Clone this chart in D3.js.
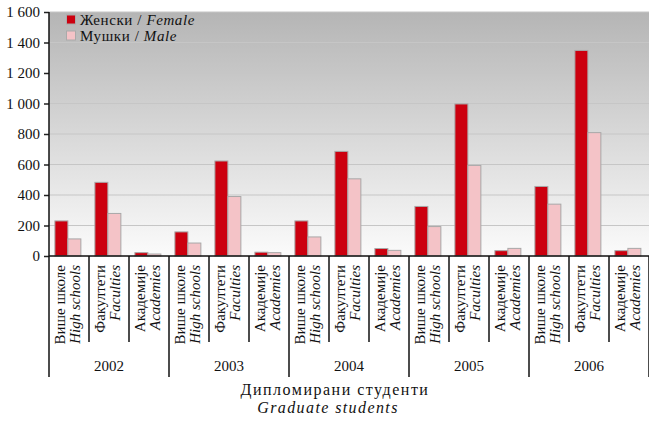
<!DOCTYPE html>
<html><head><meta charset="utf-8">
<script src="https://cdn.jsdelivr.net/npm/d3@7"></script>
<style>body{margin:0;background:#fff}svg{display:block}svg text{font-family:"Liberation Serif","Times New Roman",serif;fill:#111}</style>
</head><body><svg id="c" width="649" height="424"></svg>
<script>
const years = ["2002","2003","2004","2005","2006"];
const categoriesSr = ["Више школе","Факултети","Академије"];
const categoriesEn = ["High schools","Faculties","Academies"];
const seriesSr = ["Женски","Мушки"];
const seriesEn = ["Female","Male"];
// values per year: [High schools, Faculties, Academies]
const female = [[230,483,22],[158,623,25],[230,686,49],[325,997,35],[456,1348,35]];
const male   = [[112,279,13],[85,390,22],[125,506,37],[193,594,50],[340,809,50]];
const yTicks = [0,200,400,600,800,1000,1200,1400,1600];
const colors = ["#cc000f","#f4c3c7"];

const svg = d3.select("#c");
const L = 49, R = 649, T = 12, B = 256;
const y = d3.scaleLinear().domain([0,1600]).range([B,T]);
const x0 = d3.scaleBand().domain(years).range([L,R]);
const x1 = d3.scaleBand().domain(d3.range(3)).range([0,x0.bandwidth()]);
const x2 = d3.scaleBand().domain([0,1]).range([0,x1.bandwidth()]).paddingInner(0).paddingOuter(0.54).align(0.42);

const defs = svg.append("defs");
const g = defs.append("linearGradient").attr("id","bg").attr("x1",0).attr("y1",0).attr("x2",0).attr("y2",1);
g.append("stop").attr("offset","0%").attr("stop-color","#b5b5b5");
g.append("stop").attr("offset","100%").attr("stop-color","#fbfbfb");
svg.append("rect").attr("x",L).attr("y",T).attr("width",R-L).attr("height",B-T).attr("fill","url(#bg)");

// gridlines
svg.append("g").selectAll("line").data(yTicks.slice(1)).join("line")
  .attr("x1",L).attr("x2",R).attr("y1",d=>y(d)).attr("y2",d=>y(d))
  .attr("stroke","#c6c6c6").attr("stroke-width",1.2);

// bars
const rows = [];
years.forEach((yr,i)=>{ for(let c=0;c<3;c++){ rows.push({yr,c,s:0,v:female[i][c]}); rows.push({yr,c,s:1,v:male[i][c]}); }});
svg.append("g").selectAll("rect").data(rows).join("rect")
  .attr("x",d=>x0(d.yr)+x1(d.c)+x2(d.s))
  .attr("width",x2.bandwidth())
  .attr("y",d=>y(d.v)).attr("height",d=>B-y(d.v))
  .attr("fill",d=>colors[d.s]).attr("stroke","#a8a8a8").attr("stroke-width",1);

// y axis
const yAxis = d3.axisLeft(y).tickValues(yTicks).tickSize(5).tickPadding(4)
  .tickFormat(d=>d3.format(",")(d).replace(",","\u00a0"));
const ya = svg.append("g").attr("transform",`translate(${L},0)`).call(yAxis).attr("font-family",null);
ya.select(".domain").remove();
ya.selectAll("line").attr("stroke","#222").attr("stroke-width",1.5);
ya.selectAll("text").attr("font-size",15).attr("fill","#111");

// axis lines
svg.append("line").attr("x1",L).attr("x2",R).attr("y1",B).attr("y2",B).attr("stroke","#111").attr("stroke-width",1.5);
svg.append("line").attr("x1",L).attr("x2",L).attr("y1",T).attr("y2",377).attr("stroke","#111").attr("stroke-width",1.5);

// category separators and labels
const catG = svg.append("g");
years.forEach(yr=>{
  for(let c=0;c<3;c++){
    const cx = x0(yr)+x1(c);
    if(c>0) catG.append("line").attr("x1",cx).attr("x2",cx).attr("y1",B).attr("y2",342).attr("stroke","#111").attr("stroke-width",1.5);
    catG.append("text").attr("transform",`translate(${cx+16},265) rotate(-90)`).attr("text-anchor","end").attr("font-size",15).text(categoriesSr[c]);
    catG.append("text").attr("transform",`translate(${cx+30.5},265) rotate(-90)`).attr("text-anchor","end").attr("font-size",15).attr("font-style","italic").text(categoriesEn[c]);
  }
  const xs = x0(yr)+x0.bandwidth();
  catG.append("line").attr("x1",xs).attr("x2",xs).attr("y1",B).attr("y2",377).attr("stroke","#111").attr("stroke-width",1.5);
  catG.append("text").attr("x",x0(yr)+x0.bandwidth()/2).attr("y",371).attr("text-anchor","middle").attr("font-size",15).text(yr);
});

// legend
const lg = svg.append("g");
seriesSr.forEach((s,i)=>{
  const yy = 15 + i*16;
  lg.append("rect").attr("x",66.5).attr("y",yy).attr("width",9).attr("height",9).attr("fill",colors[i]).attr("stroke","#aaa");
  const t = lg.append("text").attr("x",80).attr("y",yy+10).attr("font-size",15).attr("letter-spacing",0.6);
  t.append("tspan").text(s+" / ");
  t.append("tspan").attr("font-style","italic").text(seriesEn[i]);
});

// title
svg.append("text").attr("x",335).attr("y",395).attr("text-anchor","middle").attr("font-size",16).attr("letter-spacing",1.5).text("Дипломирани студенти");
svg.append("text").attr("x",328).attr("y",413).attr("text-anchor","middle").attr("font-size",16).attr("letter-spacing",1.4).attr("font-style","italic").text("Graduate students");
</script></body></html>
